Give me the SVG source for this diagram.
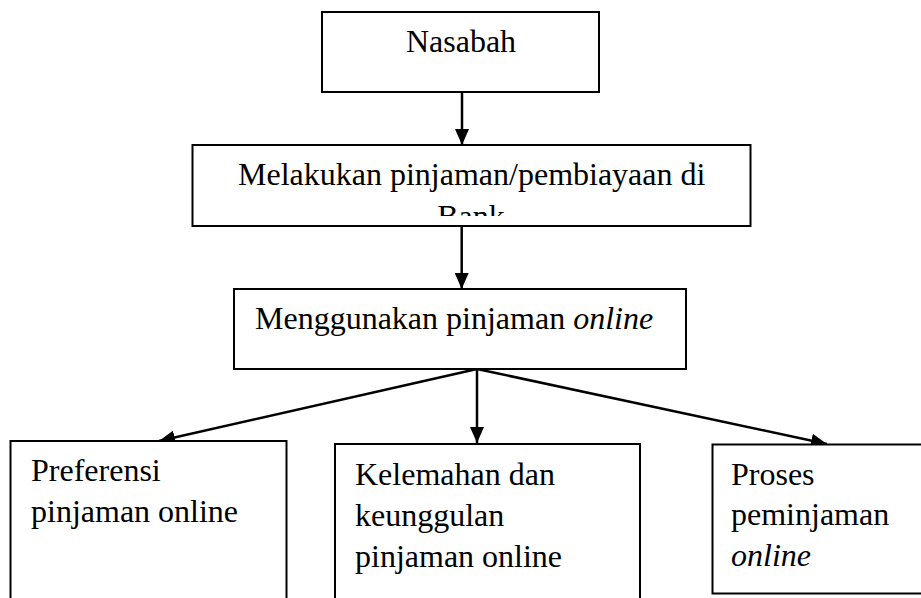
<svg xmlns="http://www.w3.org/2000/svg" width="921" height="598" viewBox="0 0 921 598">
  <style>
    .box { fill: #ffffff; stroke: #000000; stroke-width: 2; }
    .t { font-family: "Liberation Serif", "Times New Roman", serif; font-size: 32px; fill: #000000; }
    .it { font-style: italic; }
    .conn { stroke: #000000; stroke-width: 2.5; fill: none; marker-end: url(#arrow); }
  </style>
  <defs>
    <marker id="arrow" markerUnits="userSpaceOnUse" markerWidth="17" markerHeight="14" refX="16" refY="7" orient="auto">
      <path d="M0,0 L16,7 L0,14 z" fill="#000000"/>
    </marker>
    <clipPath id="clipBank">
      <rect x="193" y="146" width="557" height="70"/>
    </clipPath>
  </defs>
  <rect width="921" height="598" fill="#ffffff"/>

  <g id="connectors">
    <line class="conn" x1="462" y1="92" x2="462" y2="145"/>
    <line class="conn" x1="461.7" y1="226" x2="461.7" y2="289"/>
    <line class="conn" x1="477" y1="369" x2="477" y2="443"/>
    <line class="conn" x1="477" y1="369" x2="159" y2="441"/>
    <line class="conn" x1="477" y1="369" x2="827" y2="444"/>
  </g>

  <g id="nasabah">
    <rect class="box" x="322" y="12" width="277" height="80"/>
    <text class="t" x="461" y="52" text-anchor="middle">Nasabah</text>
  </g>

  <g id="melakukan">
    <rect class="box" x="192.5" y="145" width="558" height="81"/>
    <text class="t" x="238" y="185">Melakukan pinjaman/pembiayaan di</text>
    <text class="t" x="471" y="227" text-anchor="middle" clip-path="url(#clipBank)">Bank</text>
  </g>

  <g id="menggunakan">
    <rect class="box" x="234" y="289" width="452" height="80"/>
    <text class="t" x="255" y="329">Menggunakan pinjaman <tspan class="it">online</tspan></text>
  </g>

  <g id="preferensi">
    <rect class="box" x="10.5" y="441" width="276" height="170"/>
    <text class="t" x="31" y="481">Preferensi</text>
    <text class="t" x="31" y="522">pinjaman online</text>
  </g>

  <g id="kelemahan">
    <rect class="box" x="335" y="444" width="305" height="170"/>
    <text class="t" x="355" y="485">Kelemahan dan</text>
    <text class="t" x="355" y="526">keunggulan</text>
    <text class="t" x="355" y="567">pinjaman online</text>
  </g>

  <g id="proses">
    <rect class="box" x="712.5" y="444.5" width="220" height="149"/>
    <text class="t" x="731" y="485">Proses</text>
    <text class="t" x="731" y="525">peminjaman</text>
    <text class="t" x="731" y="566" font-style="italic">online</text>
  </g>
</svg>
